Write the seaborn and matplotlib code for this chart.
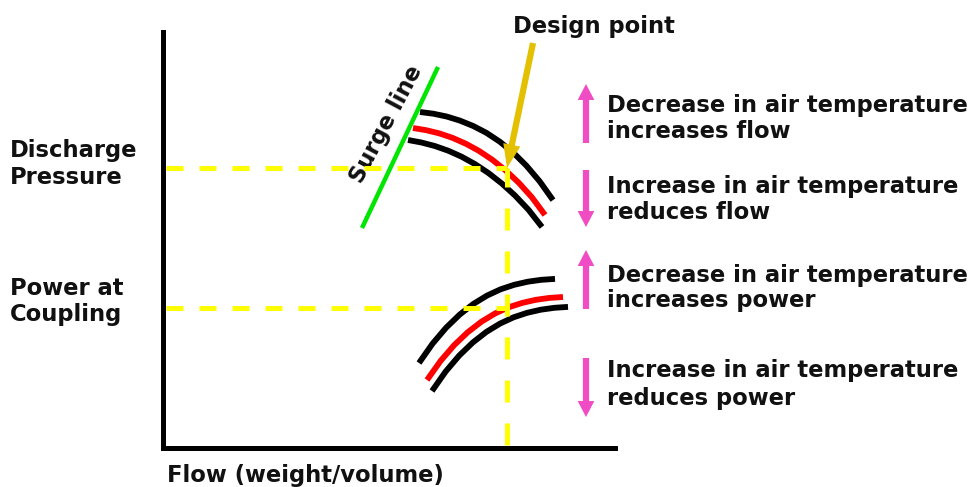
import matplotlib
matplotlib.use('Agg')
import matplotlib.pyplot as plt
import seaborn as sns

# chart units: flow to the right, value upwards, origin near the axis corner
# discharge pressure curves (upper group)
press_hi_x = [258, 271.3, 284.6, 297.9, 311.2, 324.5, 337.8, 351.1, 364.4, 377.7, 391]
press_hi_y = [333, 331.3, 328.5, 324.4, 319, 312.1, 303.3, 292.5, 279.3, 263.6, 244.9]
press_mid_x = [251, 264.2, 277.4, 290.6, 303.8, 317, 330.2, 343.4, 356.6, 369.8, 383]
press_mid_y = [317, 314.8, 311.6, 307.1, 301.3, 294.1, 285.3, 274.8, 262.4, 247.8, 230]
press_lo_x = [246, 259.4, 272.8, 286.2, 299.6, 313, 326.4, 339.8, 353.2, 366.6, 380]
press_lo_y = [305, 302.5, 299, 294.3, 288.3, 280.9, 272, 261.5, 249.3, 235.1, 218]

# power at coupling curves (lower group)
power_hi_x = [257, 270.6, 284.2, 297.8, 311.4, 325, 338.6, 352.2, 365.8, 379.4, 393]
power_hi_y = [82, 101.4, 117.4, 130.5, 141.1, 149.4, 155.7, 160.2, 163.3, 165.2, 166.1]
power_mid_x = [265, 278.6, 292.2, 305.8, 319.4, 333, 346.6, 360.2, 373.8, 387.4, 401]
power_mid_y = [65, 84.1, 99.9, 112.8, 123.3, 131.5, 137.7, 142.1, 145.2, 147.1, 148]
power_lo_x = [270, 283.6, 297.2, 310.8, 324.4, 338, 351.6, 365.2, 378.8, 392.4, 406]
power_lo_y = [54, 73.4, 89.4, 102.5, 113.1, 121.4, 127.7, 132.2, 135.3, 137.2, 138.1]

surge_x = [276, 200]
surge_y = [378, 217]

design_flow = 345
design_pressure = 277
design_power = 137

y_labels = ['Discharge\nPressure', 'Power at\nCoupling']
x_label = 'Flow (weight/volume)'
notes = [('Decrease in air temperature', 'increases flow'),
         ('Increase in air temperature', 'reduces flow'),
         ('Decrease in air temperature', 'increases power'),
         ('Increase in air temperature', 'reduces power')]

sns.set_style('white')
plt.rcParams['font.family'] = ['DejaVu Sans']
plt.rcParams['lines.solid_capstyle'] = 'butt'

fig = plt.figure(figsize=(9.73, 4.87), dpi=100)
ax = fig.add_axes([163 / 973, 39 / 487, 452 / 973, 416 / 487])
ax.set_xlim(1, 453)
ax.set_ylim(-3, 413)
ax.set_xticks([])
ax.set_yticks([])
sns.despine(ax=ax)
for s in ['left', 'bottom']:
    ax.spines[s].set_linewidth(3.6)
    ax.spines[s].set_color('black')

txt = dict(fontsize=16.3, fontweight='bold', color='#111111')

# curves
for xs, ys, c in [(press_hi_x, press_hi_y, 'black'), (press_mid_x, press_mid_y, '#ff0000'),
                  (press_lo_x, press_lo_y, 'black'), (power_hi_x, power_hi_y, 'black'),
                  (power_mid_x, power_mid_y, '#ff0000'), (power_lo_x, power_lo_y, 'black')]:
    sns.lineplot(x=xs, y=ys, sort=False, color=c, lw=4.2, ax=ax, zorder=3)

# surge line
sns.lineplot(x=surge_x, y=surge_y, sort=False, color='#00e600', lw=3.2, ax=ax, zorder=4)
ax.text(224, 321, 'Surge line', rotation=62, rotation_mode='anchor',
        ha='center', va='center', **txt)

# design point guides
ax.plot([4, design_flow], [design_pressure, design_pressure], color='#ffff00',
        lw=3.6, dashes=(3.4, 3.2), zorder=5)
ax.plot([4, design_flow], [design_power, design_power], color='#ffff00',
        lw=3.6, dashes=(3.4, 3.2), zorder=5)
ax.plot([design_flow, design_flow], [0, design_pressure], color='#ffff00',
        lw=3.6, dashes=(4.4, 4.2), zorder=5)

ax.annotate('', xy=(design_flow, design_pressure), xytext=(371, 402),
            annotation_clip=False, zorder=6,
            arrowprops=dict(arrowstyle='simple,head_length=1.7,head_width=1.25,tail_width=0.45',
                            mutation_scale=10, color='#e3c000', lw=0, shrinkA=0, shrinkB=0))
ax.text(351, 412, 'Design point', ha='left', va='baseline', **txt)

# axis labels
ax.text(-152, 288, y_labels[0].split('\n')[0], ha='left', va='baseline', **txt)
ax.text(-152, 261, y_labels[0].split('\n')[1], ha='left', va='baseline', **txt)
ax.text(-152, 150, y_labels[1].split('\n')[0], ha='left', va='baseline', **txt)
ax.text(-152, 124, y_labels[1].split('\n')[1], ha='left', va='baseline', **txt)
ax.text(5, -37, x_label, ha='left', va='baseline', **txt)

# temperature notes with arrows
arrows = [(302, 361), (275, 218), (136, 195), (87, 28)]
baselines = [(333, 307), (252, 226), (163, 138), (68, 40)]
for (tail, tip), (b1, b2), (l1, l2) in zip(arrows, baselines, notes):
    ax.annotate('', xy=(424, tip), xytext=(424, tail), annotation_clip=False,
                arrowprops=dict(arrowstyle='simple,head_length=1.15,head_width=1.2,tail_width=0.45',
                                mutation_scale=10, color='#f04dc4', lw=0, shrinkA=0, shrinkB=0))
    ax.text(445, b1, l1, ha='left', va='baseline', **txt)
    ax.text(445, b2, l2, ha='left', va='baseline', **txt)

fig.savefig('out.png', dpi=100)
